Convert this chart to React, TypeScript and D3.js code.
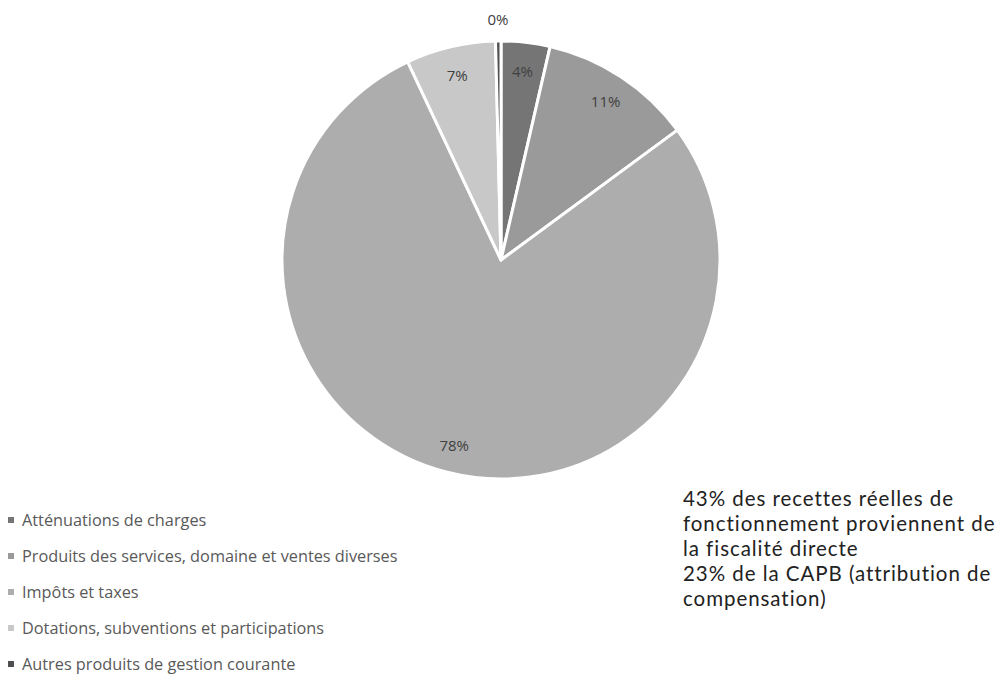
import React from "react";
import * as d3 from "d3";

const categories = [
  "Atténuations de charges",
  "Produits des services, domaine et ventes diverses",
  "Impôts et taxes",
  "Dotations, subventions et participations",
  "Autres produits de gestion courante",
];
const values = [3.6, 11.3, 78.1, 6.6, 0.4];
const labels = ["4%", "11%", "78%", "7%", "0%"];
const colors = ["#757575", "#9a9a9a", "#adadad", "#c8c8c8", "#505050"];
const noteLines = [
  "43% des recettes réelles de",
  "fonctionnement proviennent de",
  "la fiscalité directe",
  "23% de la CAPB (attribution de",
  "compensation)",
];

const W = 1005;
const H = 677;
const cx = 501;
const cy = 260;
const R = 219;

export default function App() {
  const pie = d3.pie<number>().sort(null).value((d) => d)(values);
  const arc = d3.arc<d3.PieArcDatum<number>>().innerRadius(0).outerRadius(R);
  const labelArc = d3.arc<d3.PieArcDatum<number>>().innerRadius(R * 0.87).outerRadius(R * 0.87);
  const font = "'Open Sans', Lato, sans-serif";
  return (
    <svg width={W} height={H} style={{ position: "absolute", left: 0, top: 0, background: "#fff" }}>
      <g transform={`translate(${cx},${cy})`}>
        {pie.map((p, i) => (
          <path key={i} d={arc(p) || ""} fill={colors[i]} stroke="#fff" strokeWidth={3} strokeLinejoin="round" />
        ))}
        {pie.map((p, i) => {
          let [x, y] = labelArc.centroid(p);
          if (i === 4) {
            const a = (p.startAngle + p.endAngle) / 2;
            x = Math.sin(a) * (R + 22);
            y = -Math.cos(a) * (R + 22);
          }
          return (
            <text key={i} x={x} y={y} textAnchor="middle" dominantBaseline="central" fontFamily={font} fontSize={15} fill="#404040">
              {labels[i]}
            </text>
          );
        })}
      </g>
      {categories.map((c, i) => (
        <g key={c} transform={`translate(0,${520 + i * 36})`}>
          <rect x={8} y={-3} width={6} height={6} fill={colors[i]} />
          <text x={22} y={0} dominantBaseline="central" fontFamily={font} fontSize={16.3} fill="#595959">
            {c}
          </text>
        </g>
      ))}
      {noteLines.map((t, i) => (
        <text key={i} x={683} y={498 + i * 25} dominantBaseline="central" fontFamily="Lato, sans-serif" fontSize={20.5} letterSpacing={0.95} fill="#222">
          {t}
        </text>
      ))}
    </svg>
  );
}
